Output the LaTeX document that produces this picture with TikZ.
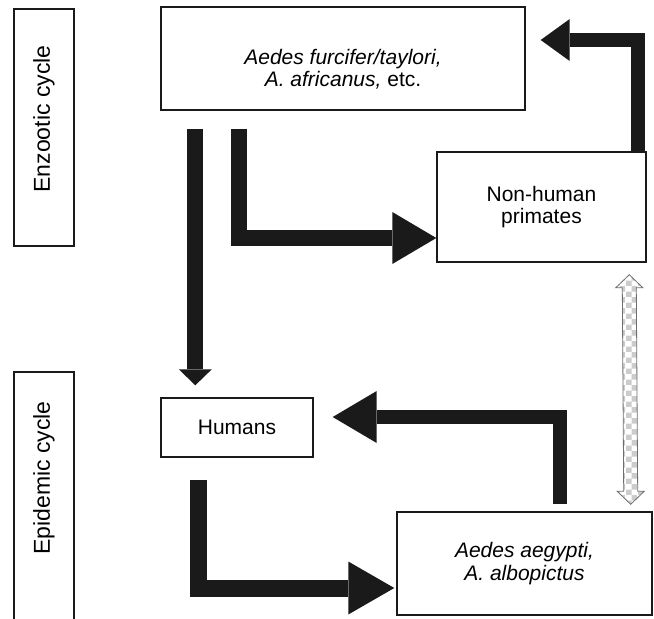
\documentclass[tikz,border=0pt]{standalone}
\usepackage{fontspec}
\setmainfont{Liberation Sans}
\usetikzlibrary{arrows.meta,calc,patterns}
\definecolor{inkblack}{HTML}{1A1A1A}
\definecolor{edgegray}{HTML}{6E6E6E}
\begin{document}
\begin{tikzpicture}[x=1pt,y=-1pt,
  box/.style={draw=inkblack, line width=1.4pt, fill=white, inner sep=0pt,
    align=center, font=\fontsize{21}{22.5}\selectfont},
  boxtext/.style={inner sep=0pt, align=center, font=\fontsize{21}{22.5}\selectfont},
  sidebox/.style={draw=inkblack, line width=2pt, inner sep=0pt, minimum width=60pt},
  sidetext/.style={inner sep=0pt, rotate=90, font=\fontsize{23}{26}\selectfont},
  flow/.style={draw=inkblack, line join=miter, line cap=butt}
]
\useasboundingbox (0,0) rectangle (654,619);

% cycle bands on the left
\node[sidebox, minimum height=237pt] (enz) at (44,127.5) {};
\node[sidetext] (enzT) at (44,119) {Enzootic cycle};
\node[sidebox, minimum height=268pt] (epi) at (44,506) {};
\node[sidetext] (epiT) at (44,478) {Epidemic cycle};

% hosts and vectors
\node[box, minimum width=364pt, minimum height=103pt] (top) at (343,58.5) {};
\node[boxtext] (topT) at (343,69) {\textit{Aedes furcifer/taylori,}\\\textit{A. africanus,} etc.};
\node[box, minimum width=209pt, minimum height=110pt] (nhp) at (541.5,207) {Non-human\\primates};
\node[box, minimum width=152pt, minimum height=59pt] (hum) at (237,427.5) {Humans};
\node[box, minimum width=255pt, minimum height=103pt] (aeg) at (524.5,563.5) {\textit{Aedes aegypti,}\\\textit{A. albopictus}};

% transmission arrows
\draw[flow, line width=16pt, -{Triangle[length=16pt,width=33pt,line width=0pt]}]
  ($(top.south west)+(35,18)$) -- ($(hum.north west)+(35,-12)$);
\draw[flow, line width=16pt, -{Triangle[length=44pt,width=52pt,line width=0pt]}]
  ($(top.south west)+(79,18)$) |- ($(nhp.west)+(0,31)$);
\draw[flow, line width=14pt, -{Triangle[length=29pt,width=42pt,line width=0pt]}]
  ($(nhp.north east)+(-9,0)$) |- ($(top.east)+(15,-18.5)$);
\draw[flow, line width=14pt, -{Triangle[length=44pt,width=52pt,line width=0pt]}]
  ($(aeg.north west)+(164,-7)$) |- ($(hum.east)+(19,-10.5)$);
\draw[flow, line width=17pt, -{Triangle[length=46pt,width=53pt,line width=0pt]}]
  ($(hum.south west)+(38,22)$) |- ($(aeg.west)+(-2,24.5)$);

% exchange between primates and urban vectors
\coordinate (hTop) at ($(nhp.south west)+(193,12)$);
\coordinate (hBot) at ($(aeg.north east)+(-22,-7)$);
\path[pattern=checkerboard, pattern color=gray!40, draw=edgegray, line width=0.8pt]
  (hTop) -- ++(13.5,13) -- ++(-6.5,0) -- ($(hBot)+(7,-13)$) -- ++(6.5,0)
  -- (hBot) -- ++(-13.5,-13) -- ++(6.5,0) -- ($(hTop)+(-7,13)$) -- ++(-6.5,0) -- cycle;
\end{tikzpicture}
\end{document}
